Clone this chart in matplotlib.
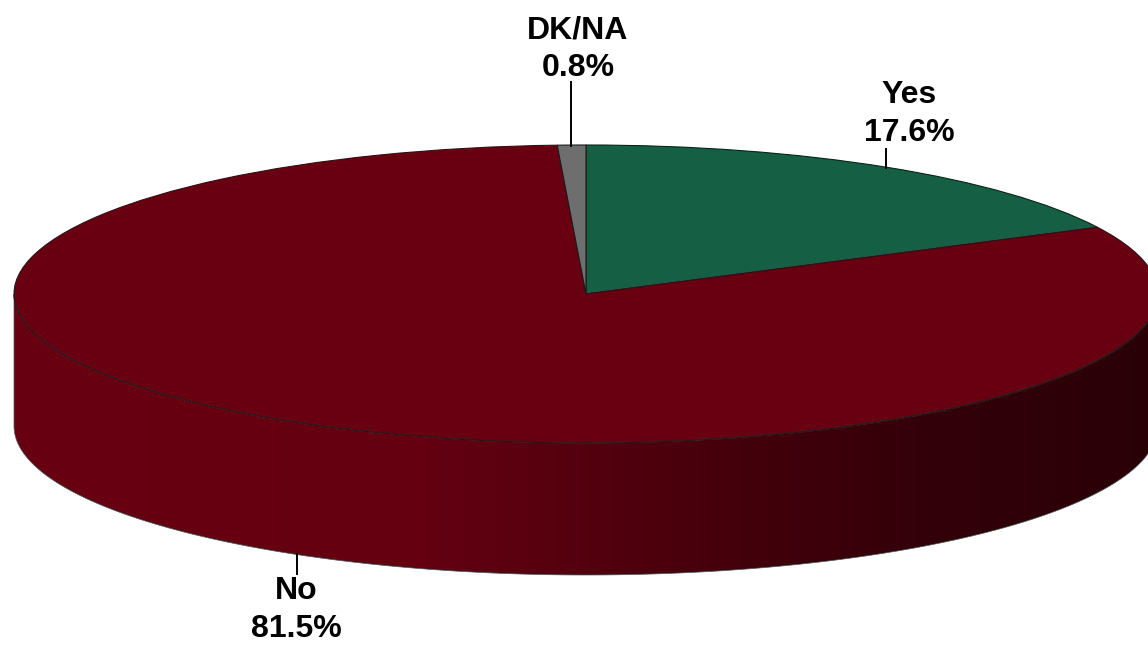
import matplotlib

matplotlib.use("Agg")
import matplotlib.pyplot as plt
import numpy as np
from matplotlib.colors import LinearSegmentedColormap
from matplotlib.patches import Polygon

labels = ["Yes", "No", "DK/NA"]
values = [17.6, 81.5, 0.8]
colors = ["#155f45", "#680012", "#6e6e6e"]

W, H = 1148, 645
CX, CY, RX, RY = 586, 294, 572, 149
DEPTH = 132 / RY


# pixel position in the reference -> pie units
def px(x):
    return (x - CX) / RX


def py(y):
    return (CY - y) / RY


plt.rcParams["font.family"] = ["Liberation Sans", "DejaVu Sans"]

fig = plt.figure(figsize=(W / 100, H / 100), dpi=100)
ax = fig.add_axes([0, 0, 1, 1])

# Side wall of the disc, dark to the right
t = np.linspace(np.pi, 2 * np.pi, 300)
wall_x = np.cos(t)
wall_y = np.sin(t)
outline = np.vstack(
    [np.column_stack([wall_x, wall_y]), np.column_stack([wall_x[::-1], wall_y[::-1] - DEPTH])]
)
wall = Polygon(outline, closed=True, facecolor="none", edgecolor="#555555", linewidth=0.5, zorder=1)
ax.add_patch(wall)
wall_cmap = LinearSegmentedColormap.from_list(
    "wall",
    [(0.0, "#680012"), (0.35, "#650011"), (0.5, "#54000e"), (0.65, "#42000b"), (0.8, "#330009"), (1.0, "#2a0007")],
)
img = ax.imshow(
    np.linspace(0, 1, 256).reshape(1, -1),
    cmap=wall_cmap,
    extent=(-1, 1, -2, 0),
    aspect="auto",
    zorder=0.5,
)
img.set_clip_path(wall)

# Top face
wedges, _ = ax.pie(
    values,
    colors=colors,
    startangle=90,
    counterclock=False,
    radius=1,
    wedgeprops={"edgecolor": "#1a1a1a", "linewidth": 0.8, "zorder": 2},
)

# Leader lines
ax.plot([px(571), px(571)], [py(82), py(146)], color="black", lw=1.4, zorder=3)
ax.plot([px(886), px(886)], [py(149), py(168)], color="black", lw=1.4, zorder=3)
ax.plot([px(297), px(297)], [py(554), py(574)], color="black", lw=1.4, zorder=3)

# Labels
label_pos = [(909, 114), (296, 610), (578, 49)]
for name, val, (x, y) in zip(labels, values, label_pos):
    ax.text(
        px(x),
        py(y),
        f"{name}\n{val}%",
        ha="center",
        va="center",
        fontsize=23,
        fontweight="bold",
        linespacing=1.33,
        color="black",
        zorder=4,
    )

ax.set_aspect("auto")
ax.set_xlim(px(0), px(W))
ax.set_ylim(py(H), py(0))
ax.axis("off")

fig.savefig("out.png", dpi=100, facecolor="white")
